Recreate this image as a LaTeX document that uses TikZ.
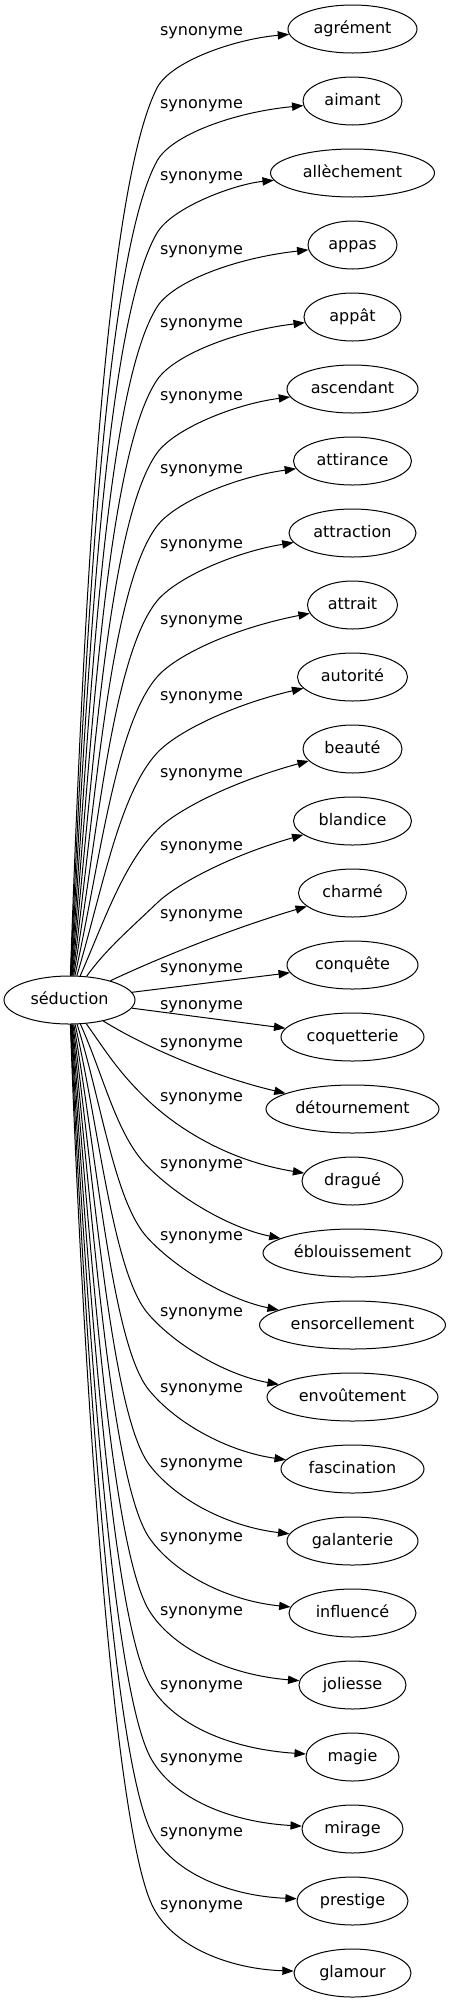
\documentclass[tikz,border=0pt]{standalone}
\usepackage{fontspec}
\setmainfont{DejaVu Sans}
\usetikzlibrary{arrows.meta,shapes.geometric}
\tikzset{
  word/.style={draw=black, line width=0.75pt, ellipse, inner sep=0pt,
    minimum height=36pt, minimum width=#1*0.75pt,
    font=\fontsize{12pt}{14pt}\selectfont, text height=9.1pt, text depth=2.9pt},
  rel/.style={font=\fontsize{12pt}{14pt}\selectfont, inner sep=0pt},
  link/.style={draw=black, line width=0.75pt, -{Triangle[length=8.5pt,width=6.2pt]}}
}
\begin{document}
\begin{tikzpicture}[x=0.75pt,y=-0.75pt]
\useasboundingbox (0,0) rectangle (451,2003);
\node[word=131] (root) at (69.5,1000) {séduction};
\foreach \nm/\txt/\w [count=\i from 0] in {
  agrement/agrément/129, aimant/aimant/99, allechement/allèchement/164,
  appas/appas/89, appat/appât/97, ascendant/ascendant/131,
  attirance/attirance/118, attraction/attraction/127, attrait/attrait/90,
  autorite/autorité/110, beaute/beauté/99, blandice/blandice/118,
  charme/charmé/108, conquete/conquête/131, coquetterie/coquetterie/143,
  detournement/détournement/173, drague/dragué/101,
  eblouissement/éblouissement/179, ensorcellement/ensorcellement/186,
  envoutement/envoûtement/171, fascination/fascination/143,
  galanterie/galanterie/131, influence/influencé/127, joliesse/joliesse/107,
  magie/magie/93, mirage/mirage/101, prestige/prestige/111, glamour/glamour/117}
{
  \node[word=\w] (\nm) at (352.5,{29+72*\i}) {\txt};
}
% upper edges
\foreach \nm/\ly in {agrement/33, aimant/106, allechement/178, appas/252,
  appat/325, ascendant/398, attirance/471, attraction/546, attrait/622,
  autorite/698, beaute/775, blandice/848}
{
  \pgfmathsetmacro\eH{922-\ly}
  \pgfmathsetmacro\eF{\eH/889}
  \pgfmathsetmacro\eBy{\ly+55}
  \pgfmathsetmacro\eCax{108-26*\eF}
  \pgfmathsetmacro\eCay{977-0.37*\eH}
  \pgfmathsetmacro\eA{42+21*\eF}
  \pgfmathsetmacro\eK{35+85*\eF}
  \pgfmathsetmacro\eCbx{157-\eK*cos(\eA)}
  \pgfmathsetmacro\eCby{\eBy+\eK*sin(\eA)}
  \pgfmathsetmacro\eCcx{157+30*cos(\eA)}
  \pgfmathsetmacro\eCcy{\eBy-30*sin(\eA)}
  \pgfmathsetmacro\eCdy{\ly+6}
  \draw[link] (root) .. controls (\eCax,\eCay) and (\eCbx,\eCby) .. (157,\eBy)
     .. controls (\eCcx,\eCcy) and (235,\eCdy) .. (\nm);
  \node[rel] (l\nm) at (201.5,\ly) {synonyme};
}
% middle edges
\draw[link] (root) .. controls (165,955) and (240,926) .. (charme);
\node[rel] (lcharme) at (201.5,916) {synonyme};
\draw[link] (root) -- (conquete);
\node[rel] (lconquete) at (201.5,970) {synonyme};
\draw[link] (root) -- (coquetterie);
\node[rel] (lcoquetterie) at (201.5,1007) {synonyme};
\draw[link] (root) .. controls (150,1050) and (220,1078) .. (detournement);
\node[rel] (ldetournement) at (201.5,1045) {synonyme};
% lower edges
\foreach \nm/\ly in {drague/1099, eblouissement/1166, ensorcellement/1238,
  envoutement/1314, fascination/1390, galanterie/1465, influence/1539,
  joliesse/1613, magie/1687, mirage/1760, prestige/1834, glamour/1907}
{
  \pgfmathsetmacro\eH{\ly-1023}
  \pgfmathsetmacro\eF{\eH/884}
  \pgfmathsetmacro\eBx{146+7*\eF}
  \pgfmathsetmacro\eCax{108-26*\eF}
  \pgfmathsetmacro\eCay{1023+0.37*\eH}
  \pgfmathsetmacro\eA{42+21*\eF}
  \pgfmathsetmacro\eK{35+55*\eF}
  \pgfmathsetmacro\eCbx{\eBx-\eK*cos(\eA)}
  \pgfmathsetmacro\eCby{\ly-\eK*sin(\eA)}
  \pgfmathsetmacro\eCcx{\eBx+45*cos(\eA)}
  \pgfmathsetmacro\eCcy{\ly+45*sin(\eA)}
  \pgfmathsetmacro\eCdy{\ly+62}
  \draw[link] (root) .. controls (\eCax,\eCay) and (\eCbx,\eCby) .. (\eBx,\ly)
     .. controls (\eCcx,\eCcy) and (230,\eCdy) .. (\nm);
  \node[rel] (l\nm) at (201.5,\ly) {synonyme};
}
\end{tikzpicture}
\end{document}
